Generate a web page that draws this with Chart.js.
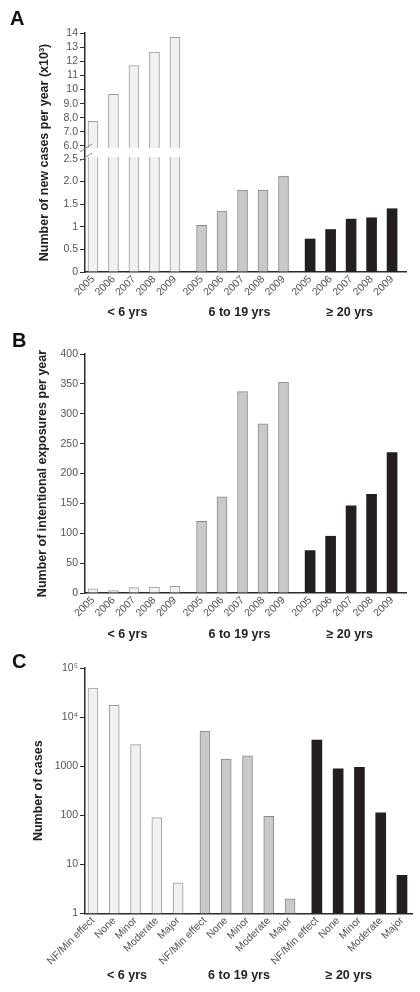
<!DOCTYPE html>
<html>
<head>
<meta charset="utf-8">
<script src="https://cdn.jsdelivr.net/npm/chart.js@4.4.1/dist/chart.umd.min.js"></script>
<style>
  html, body { margin:0; padding:0; background:#fff; }
  .panel { position:relative; width:420px; }
  canvas { display:block; }
</style>
</head>
<body>
<div class="panel" style="height:320px"><canvas id="chartA"></canvas></div>
<div class="panel" style="height:330px"><canvas id="chartB"></canvas></div>
<div class="panel" style="height:342px"><canvas id="chartC"></canvas></div>
<script>
// ---------- DATA ----------
const groups = ['< 6 yrs', '6 to 19 yrs', '≥ 20 yrs'];
const years = ['2005', '2006', '2007', '2008', '2009'];
const severity = ['NF/Min effect', 'None', 'Minor', 'Moderate', 'Major'];

// Panel A: new cases per year (x10^3)
const newCasesUnder6 = [7.75, 9.65, 11.7, 12.65, 13.7];
const newCases6to19 = [1.03, 1.35, 1.81, 1.81, 2.12];
const newCases20plus = [0.73, 0.94, 1.17, 1.20, 1.40];

// Panel B: intentional exposures per year
const intentUnder6 = [7, 4, 9, 10, 11];
const intent6to19 = [120, 161, 337, 283, 353];
const intent20plus = [71, 95, 146, 165, 235];

// Panel C: number of cases by outcome
const casesUnder6 = [39000, 17400, 2750, 90, 4.2];
const cases6to19 = [5200, 1390, 1620, 95, 2];
const cases20plus = [3400, 880, 950, 112, 6];

// Tick labels
const ticksA = [0, 0.5, 1, 1.5, 2, 2.5, 6, 7, 8, 9, 10, 11, 12, 13, 14];
const tickLabelsA = ['0', '0.5', '1', '1.5', '2.0', '2.5', '6.0', '7.0', '8.0', '9.0', '10', '11', '12', '13', '14'];
const ticksB = [0, 50, 100, 150, 200, 250, 300, 350, 400];
const ticksC = [1, 10, 100, 1000, 10000, 100000];
const tickLabelsC = ['1', '10', '100', '1000', '10⁴', '10⁵'];

// ---------- STYLE ----------
const FONT = '"Liberation Sans", Arial, Helvetica, sans-serif';
Chart.defaults.font.family = FONT;
Chart.defaults.animation = false;
const AXIS = '#2b2b2b';
const TICKC = '#555';
const fills = ['#f1f1f1', '#c9c9c9', '#231f20'];
const borders = ['#9c9c9c', '#8a8a8a', '#231f20'];

// ---------- broken linear scale (panel A) ----------
const BREAK_LO = 2.5, BREAK_HI = 6, GAP = 0.288, UPPER_K = 0.3125;
function brk(v) {
  if (v <= BREAK_LO) return v;
  if (v < BREAK_HI) return BREAK_LO + (v - BREAK_LO) / (BREAK_HI - BREAK_LO) * GAP;
  return BREAK_LO + GAP + (v - BREAK_HI) * UPPER_K;
}
function unbrk(d) {
  if (d <= BREAK_LO) return d;
  if (d < BREAK_LO + GAP) return BREAK_LO + (d - BREAK_LO) / GAP * (BREAK_HI - BREAK_LO);
  return BREAK_HI + (d - BREAK_LO - GAP) / UPPER_K;
}
class BrokenLinearScale extends Chart.LinearScale {
  getPixelForValue(v) {
    if (v === null || v === undefined || isNaN(v)) return NaN;
    const a = brk(this.min), b = brk(this.max);
    return this.getPixelForDecimal((brk(v) - a) / (b - a));
  }
  getValueForPixel(p) {
    const a = brk(this.min), b = brk(this.max);
    return unbrk(a + this.getDecimalForPixel(p) * (b - a));
  }
}
BrokenLinearScale.id = 'brokenLinear';
BrokenLinearScale.defaults = Chart.LinearScale.defaults;
Chart.register(BrokenLinearScale);

// ---------- plugins ----------
const panelLetter = {
  id: 'panelLetter',
  afterDraw(chart, args, opts) {
    const c = chart.ctx;
    c.save();
    c.font = 'bold 20px ' + FONT;
    c.fillStyle = '#111';
    c.textBaseline = 'alphabetic';
    c.fillText(opts.text, opts.x, opts.y);
    c.restore();
  }
};
const axisBreak = {
  id: 'axisBreak',
  afterDatasetsDraw(chart) {
    const y = chart.scales.y, a = chart.chartArea, c = chart.ctx;
    const top = y.getPixelForValue(BREAK_HI), bot = y.getPixelForValue(BREAK_LO);
    c.save();
    c.fillStyle = '#fff';
    c.fillRect(a.left + 1, top + 2, a.right - a.left, bot - top - 4);
    c.strokeStyle = '#888';
    c.lineWidth = 1;
    [top + 2, bot - 2].forEach(yy => {
      c.beginPath();
      c.moveTo(a.left - 5, yy + 4);
      c.lineTo(a.left + 7, yy - 4);
      c.stroke();
    });
    c.restore();
  }
};

// ---------- builders ----------
function datasets(series, step) {
  return series.map((vals, g) => ({
    data: vals.map((v, i) => ({ x: g * step + i, y: v })),
    backgroundColor: fills[g],
    borderColor: borders[g],
    borderWidth: g === 2 ? 0 : 1,
    barThickness: 10,
    grouped: false
  }));
}
function xScales(labels, step, min, max, h1, h2, pad1, pad2, groupShift) {
  const n = labels.length;
  const pos = [];
  for (let g = 0; g < groups.length; g++) for (let i = 0; i < n; i++) pos.push(g * step + i);
  return {
    x: {
      type: 'linear', position: 'bottom', weight: 1, min, max, offset: false,
      grid: { display: false, drawTicks: false },
      border: { display: true, color: AXIS, width: 1.5 },
      ticks: { autoSkip: false, minRotation: 45, maxRotation: 45, padding: pad1, color: TICKC,
               font: { size: 10.5 }, callback: (v, i) => labels[i % n] },
      afterBuildTicks: s => { s.ticks = pos.map(v => ({ value: v })); },
      afterFit: s => { s.height = h1; }
    },
    xg: {
      type: 'linear', position: 'bottom', weight: 2, min, max, offset: false,
      grid: { display: false, drawTicks: false },
      border: { display: false },
      ticks: { autoSkip: false, minRotation: 0, maxRotation: 0, padding: pad2, color: '#222',
               font: { size: 12.5, weight: 'bold' }, callback: (v, i) => groups[i] },
      afterBuildTicks: s => { s.ticks = groups.map((_, g) => ({ value: g * step + (n - 1) / 2 + groupShift[g] })); },
      afterFit: s => { s.height = h2; }
    }
  };
}
function yScale(type, min, max, tickVals, tickLabels, title, titlePad) {
  return {
    type, min, max, position: 'left',
    grid: { drawOnChartArea: false, drawTicks: true, tickLength: 5, color: AXIS, lineWidth: 1 },
    border: { display: true, color: AXIS, width: 1.5 },
    ticks: { color: TICKC, font: { size: 10.5 }, padding: 2,
             callback: (v, i) => tickLabels ? tickLabels[i] : String(v) },
    title: { display: true, text: title, color: '#222', font: { size: 12.5, weight: 'bold' },
             padding: { top: titlePad, bottom: 0 } },
    afterBuildTicks: s => { s.ticks = tickVals.map(v => ({ value: v })); },
    afterFit: s => { s.width = 85; }
  };
}
function baseOptions(scales, padding, letter) {
  return {
    responsive: true, maintainAspectRatio: false, animation: false,
    layout: { padding },
    plugins: { legend: { display: false }, tooltip: { enabled: false }, panelLetter: letter },
    scales
  };
}

// ---------- Panel A ----------
const STEP_AB = 5.3;
const SHIFT_AB = [-0.32, -0.15, -0.07];
new Chart(document.getElementById('chartA'), {
  type: 'bar',
  data: { datasets: datasets([newCasesUnder6, newCases6to19, newCases20plus], STEP_AB) },
  options: baseOptions(
    Object.assign({ y: yScale('brokenLinear', 0, 14, ticksA, tickLabelsA, 'Number of new cases per year (x10³)', 37) },
                  xScales(years, STEP_AB, -0.39, 15.28, 30, 18, 1, 3, SHIFT_AB)),
    { top: 33, right: 14, bottom: 0, left: 0 },
    { text: 'A', x: 10, y: 25 }),
  plugins: [panelLetter, axisBreak]
});

// ---------- Panel B ----------
new Chart(document.getElementById('chartB'), {
  type: 'bar',
  data: { datasets: datasets([intentUnder6, intent6to19, intent20plus], STEP_AB) },
  options: baseOptions(
    Object.assign({ y: yScale('linear', 0, 400, ticksB, null, 'Number of intentional exposures per year', 35) },
                  xScales(years, STEP_AB, -0.39, 15.28, 31, 19, 1, 3, SHIFT_AB)),
    { top: 34, right: 14, bottom: 7, left: 0 },
    { text: 'B', x: 12, y: 27 }),
  plugins: [panelLetter]
});

// ---------- Panel C ----------
const STEP_C = 5.26;
const SHIFT_C = [-0.4, -0.4, -0.5];
new Chart(document.getElementById('chartC'), {
  type: 'bar',
  data: { datasets: datasets([casesUnder6, cases6to19, cases20plus], STEP_C) },
  options: baseOptions(
    Object.assign({ y: yScale('logarithmic', 1, 100000, ticksC, tickLabelsC, 'Number of cases', 31) },
                  xScales(severity, STEP_C, -0.375, 14.99, 51.5, 18, 1, 3, SHIFT_C)),
    { top: 18, right: 8, bottom: 9, left: 0 },
    { text: 'C', x: 12, y: 18 }),
  plugins: [panelLetter]
});
</script>
</body>
</html>
